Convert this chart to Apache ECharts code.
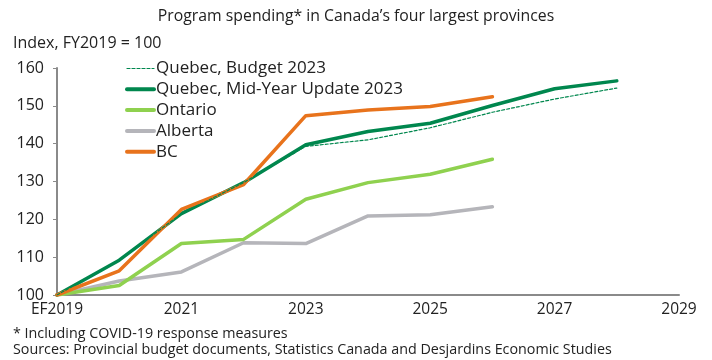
<!DOCTYPE html>
<html><head><meta charset="utf-8">
<script src="https://cdn.jsdelivr.net/npm/echarts@6/dist/echarts.min.js"></script>
<style>html,body{margin:0;padding:0;background:#fff}#c{width:712px;height:360px}</style>
</head><body><div id="c"></div>
<script>
const years = ['EF2019','2020','2021','2022','2023','2024','2025','2026','2027','2028','2029'];
const quebecBudget = [100,109.2,121.5,129.7,139.3,141.0,144.2,148.3,151.8,154.7,null];
const quebecMYU = [100,109.2,121.5,129.7,139.7,143.2,145.4,150.1,154.5,156.6,null];
const ontario = [100,102.5,113.6,114.7,125.3,129.7,131.9,135.9,null,null,null];
const alberta = [100,103.7,106.1,113.8,113.6,120.9,121.2,123.3,null,null,null];
const bc = [100,106.4,122.6,129.2,147.4,148.9,149.8,152.4,null,null,null];

const font = 'Open Sans';
const chart = echarts.init(document.getElementById('c'));
function s(name, data, color, width, dash, z) {
  return {name, type:'line', data, symbol:'none', z,
    lineStyle:{color, width, type: dash ? [3,2] : 'solid', cap:'round'},
    itemStyle:{color}};
}
chart.setOption({
  animation:false,
  title:[
    {text:'Program spending* in Canada\u2019s four largest provinces', left:'center', top:3,
     textStyle:{fontFamily:font, fontSize:15.8, fontWeight:'normal', color:'#222'}},
    {text:'Index, FY2019 = 100', left:8, top:30,
     textStyle:{fontFamily:font, fontSize:16, fontWeight:'normal', color:'#222'}},
    {text:'* Including COVID-19 response measures', left:8, top:322,
     textStyle:{fontFamily:font, fontSize:14.3, fontWeight:'normal', color:'#222'}},
    {text:'Sources: Provincial budget documents, Statistics Canada and Desjardins Economic Studies', left:8, top:338,
     textStyle:{fontFamily:font, fontSize:14.3, fontWeight:'normal', color:'#222'}}
  ],
  legend:{orient:'vertical', left:120, top:55, itemWidth:27, itemHeight:14, itemGap:3.8,
    itemStyle:{opacity:0},
    textStyle:{fontFamily:font, fontSize:17, color:'#222', padding:[0,0,0,-3]},
    data:[
      {name:'Quebec, Budget 2023', lineStyle:{width:1.2}},
      {name:'Quebec, Mid-Year Update 2023', lineStyle:{width:4}},
      {name:'Ontario', lineStyle:{width:4}},
      {name:'Alberta', lineStyle:{width:4}},
      {name:'BC', lineStyle:{width:4}}
    ]},
  grid:{left:57, right:33, top:68, bottom:65},
  xAxis:{type:'category', data:years, boundaryGap:false,
    axisLine:{lineStyle:{color:'#8a8a8a', width:2}},
    axisTick:{show:false},
    axisLabel:{interval:1, color:'#222', fontFamily:font, fontSize:15.5, margin:7}},
  yAxis:{type:'value', min:100, max:160, interval:10,
    splitLine:{show:false},
    axisLine:{show:true, lineStyle:{color:'#8a8a8a', width:2}},
    axisTick:{show:true, length:4, lineStyle:{color:'#8a8a8a'}},
    axisLabel:{color:'#222', fontFamily:font, fontSize:16, margin:13}},
  series:[
    s('Quebec, Budget 2023', quebecBudget, '#00874e', 1.2, true, 5),
    s('Quebec, Mid-Year Update 2023', quebecMYU, '#00874e', 3.5, false, 3),
    s('Ontario', ontario, '#8fd14f', 3.5, false, 2),
    s('Alberta', alberta, '#b5b5ba', 3.5, false, 1),
    s('BC', bc, '#e8731c', 3.5, false, 4)
  ]
});
</script></body></html>
